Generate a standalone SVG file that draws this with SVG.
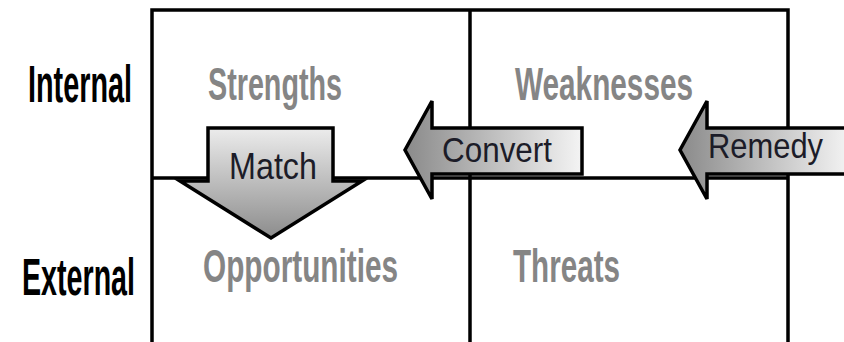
<svg xmlns="http://www.w3.org/2000/svg" width="844" height="342" viewBox="0 0 844 342">
  <defs>
    <linearGradient id="gradDown" x1="0" y1="0" x2="0" y2="1">
      <stop offset="0" stop-color="#ececec"/>
      <stop offset="1" stop-color="#8c8c8c"/>
    </linearGradient>
    <linearGradient id="gradLeft" x1="0" y1="0" x2="1" y2="0">
      <stop offset="0" stop-color="#8a8a8a"/>
      <stop offset="1" stop-color="#f4f4f4"/>
    </linearGradient>
    <style>
      .grid { stroke: #000; stroke-width: 3.5; fill: none; }
      .row { font-family: "Liberation Sans", Arial, sans-serif; font-weight: bold; font-size: 51px; fill: #000; }
      .quad { font-family: "Liberation Sans", Arial, sans-serif; font-weight: bold; font-size: 47px; fill: #858585; }
      .arrow { stroke: #000; stroke-width: 3.5; stroke-linejoin: miter; }
      .alabel { font-family: "Liberation Sans", Arial, sans-serif; font-size: 35px; fill: #1c1c28; }
    </style>
  </defs>
  <rect width="844" height="342" fill="#fff"/>

  <!-- 2x2 grid frame -->
  <g id="grid" class="grid">
    <path d="M152 342 V10 H788 V342"/>
    <path d="M470 10 V342"/>
    <path d="M152 178 H788"/>
  </g>

  <!-- row headings -->
  <g id="internal"><text class="row" x="28" y="102" textLength="104" lengthAdjust="spacingAndGlyphs">Internal</text></g>
  <g id="external"><text class="row" x="22" y="295" textLength="113" lengthAdjust="spacingAndGlyphs">External</text></g>

  <!-- quadrants -->
  <g id="strengths"><text class="quad" x="208" y="100" textLength="134" lengthAdjust="spacingAndGlyphs">Strengths</text></g>
  <g id="weaknesses"><text class="quad" x="515" y="100" textLength="178" lengthAdjust="spacingAndGlyphs">Weaknesses</text></g>
  <g id="opportunities"><text class="quad" x="203" y="282" textLength="195" lengthAdjust="spacingAndGlyphs">Opportunities</text></g>
  <g id="threats"><text class="quad" x="513" y="282" textLength="107" lengthAdjust="spacingAndGlyphs">Threats</text></g>

  <!-- block arrows between quadrants -->
  <g id="connectors">
    <g id="match">
      <path class="arrow" fill="url(#gradDown)" d="M208 128 H333 V181 H362 L271 238 L180 181 H208 Z"/>
      <text class="alabel" x="229" y="179" textLength="88" lengthAdjust="spacingAndGlyphs" style="font-size:37px">Match</text>
    </g>
    <g id="convert">
      <path class="arrow" fill="url(#gradLeft)" d="M582 128 V174 H432 V199 L405 150 L432 101 V128 Z"/>
      <text class="alabel" x="442" y="162" textLength="110" lengthAdjust="spacingAndGlyphs">Convert</text>
    </g>
    <g id="remedy">
      <path class="arrow" fill="url(#gradLeft)" d="M850 128 V174 H707 V199 L680 150 L707 101 V128 Z"/>
      <text class="alabel" x="708" y="158" textLength="115" lengthAdjust="spacingAndGlyphs">Remedy</text>
    </g>
  </g>
</svg>
